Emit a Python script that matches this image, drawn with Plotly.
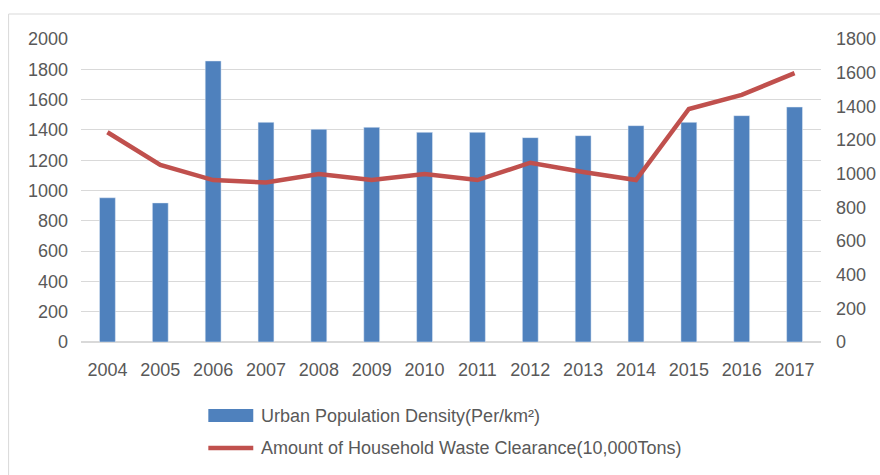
import plotly.graph_objects as go

years = ["2004", "2005", "2006", "2007", "2008", "2009", "2010", "2011",
         "2012", "2013", "2014", "2015", "2016", "2017"]
density = [952, 918, 1855, 1450, 1404, 1417, 1384, 1384, 1349, 1362, 1428, 1450, 1494, 1551]
waste = [1246, 1052, 962, 947, 998, 962, 998, 962, 1065, 1010, 962, 1384, 1468, 1597]

bar_name = "Urban Population Density(Per/km²)"
line_name = "Amount of Household Waste Clearance(10,000Tons)"

W, H = 880, 475
L, R, T, B = 80.5, 821.5, 39, 342
pw, ph = R - L, B - T

def px(x):
    return (x - L) / pw

def py(y):
    return (B - y) / ph

txt = "#595959"
font = dict(family="Liberation Sans, Arial, sans-serif", size=18, color=txt)

fig = go.Figure()
fig.add_trace(go.Bar(x=years, y=density, name=bar_name, marker_color="#4F81BD",
                     width=0.3, yaxis="y", showlegend=False))
fig.add_trace(go.Scatter(x=years, y=waste, name=line_name, mode="lines",
                         line=dict(color="#C0504D", width=4.5), yaxis="y2",
                         showlegend=False))

shapes = [
    dict(type="rect", xref="paper", yref="paper",
         x0=px(8), x1=px(890), y0=py(14), y1=py(490),
         line=dict(color="#D9D9D9", width=1), fillcolor="rgba(0,0,0,0)", layer="below"),
    # legend keys
    dict(type="rect", xref="paper", yref="paper",
         x0=px(208), x1=px(253), y0=py(409), y1=py(422),
         line=dict(width=0), fillcolor="#4F81BD"),
    dict(type="line", xref="paper", yref="paper",
         x0=px(208), x1=px(253), y0=py(448), y1=py(448),
         line=dict(color="#C0504D", width=4.5)),
]
annotations = [
    dict(text=bar_name, xref="paper", yref="paper", x=px(259), y=py(416),
         xanchor="left", yanchor="middle", showarrow=False, font=dict(size=18, color=txt)),
    dict(text=line_name, xref="paper", yref="paper", x=px(259), y=py(448),
         xanchor="left", yanchor="middle", showarrow=False, font=dict(size=18, color=txt)),
]

fig.update_layout(
    width=W, height=H,
    margin=dict(l=L, r=W - R, t=T, b=H - B, pad=0, autoexpand=False),
    paper_bgcolor="white", plot_bgcolor="white",
    font=font,
    showlegend=False,
    xaxis=dict(showgrid=False, showline=False, ticks="", ticklabelstandoff=15,
               automargin=False, tickfont=dict(size=18, color=txt)),
    yaxis=dict(range=[0, 2000], dtick=200, showgrid=True, gridcolor="#D9D9D9",
               gridwidth=1, zeroline=True, zerolinecolor="#D9D9D9", showline=False,
               automargin=False,
               ticks="", ticklabelstandoff=12, tickfont=dict(size=18, color=txt)),
    yaxis2=dict(range=[0, 1800], dtick=200, overlaying="y", side="right",
                showgrid=False, zeroline=False, showline=False, ticks="",
                automargin=False,
                ticklabelstandoff=14, tickfont=dict(size=18, color=txt)),
    shapes=shapes,
    annotations=annotations,
)

fig.write_html(
    "out.html",
    config={"displayModeBar": False},
    post_script="document.body.style.margin='0';document.body.style.overflow='hidden';",
)
